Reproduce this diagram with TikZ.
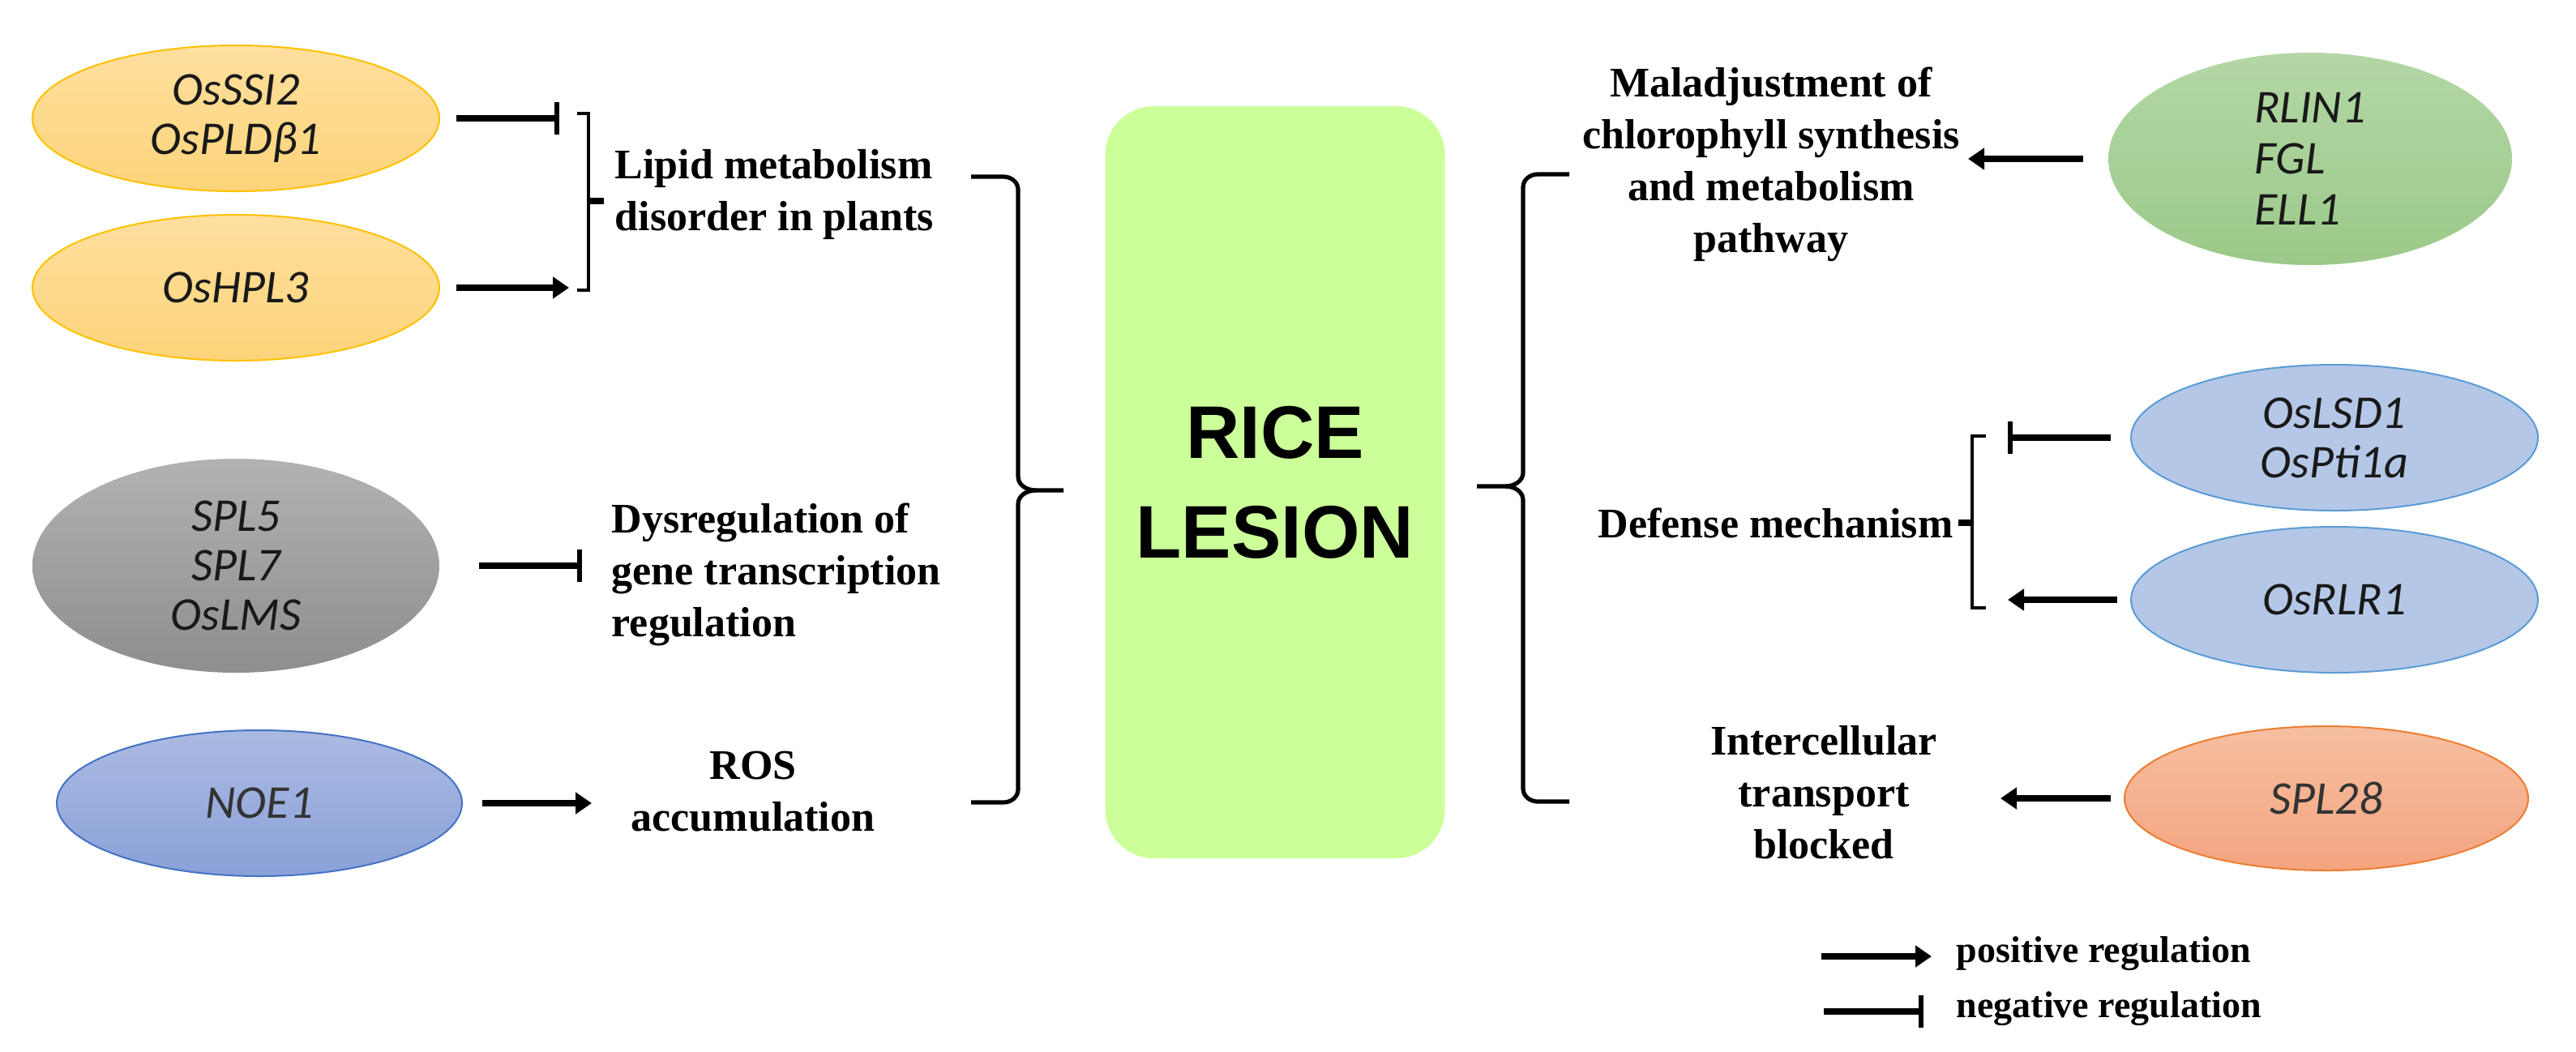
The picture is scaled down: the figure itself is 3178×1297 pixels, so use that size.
\documentclass[tikz,border=0pt]{standalone}
\usepackage{fontspec}
\setmainfont{Liberation Serif}
\newfontfamily\genefont{Carlito}
\newfontfamily\boxfont{Liberation Sans}
\usetikzlibrary{shapes.geometric,arrows.meta}
\definecolor{orT}{HTML}{FEDF9E}
\definecolor{orB}{HTML}{FDD47A}
\definecolor{orD}{HTML}{FFC000}
\definecolor{grT}{HTML}{B2B2B2}
\definecolor{grB}{HTML}{8E8E8E}
\definecolor{blT}{HTML}{ABBAE2}
\definecolor{blB}{HTML}{8AA1D8}
\definecolor{blD}{HTML}{4472C4}
\definecolor{gnT}{HTML}{B3D7A5}
\definecolor{gnB}{HTML}{9CC989}
\definecolor{lbF}{HTML}{B4C7E7}
\definecolor{lbD}{HTML}{5B9BD5}
\definecolor{saT}{HTML}{F6BFA2}
\definecolor{saB}{HTML}{F4A47F}
\definecolor{saD}{HTML}{ED7D31}
\definecolor{riceG}{HTML}{CCFF99}
\tikzset{
  gene/.style={ellipse, inner sep=0pt, align=center, text=black!90,
    font=\genefont\itshape\fontsize{14.5}{15.25}\selectfont},
  lab/.style={inner sep=0pt, font=\bfseries\fontsize{13}{16}\selectfont},
  leg/.style={inner sep=0pt, anchor=west, font=\bfseries\fontsize{11.5}{14}\selectfont},
  posarr/.style={line width=1.8pt, -{Triangle[length=5pt,width=6.5pt]}},
  negarr/.style={line width=1.8pt, -{Bar[width=10pt,line width=1.5pt]}},
  brk/.style={line width=1.1pt},
  nub/.style={line width=2.2pt},
  brace/.style={line width=1.3pt}
}
\begin{document}
\begin{tikzpicture}[x=0.25pt,y=-0.25pt]
\useasboundingbox (0,0) rectangle (3178,1297);

% ---------- left ellipses ----------
\node[gene, minimum width=125.5pt, minimum height=45pt, top color=orT, bottom color=orB, draw=orD, line width=0.5pt] (e1) at (291,146) {OsSSI2\\OsPLDβ1};
\node[gene, minimum width=125.5pt, minimum height=45pt, top color=orT, bottom color=orB, draw=orD, line width=0.5pt] (e2) at (291,355) {OsHPL3};
\node[gene, minimum width=125.5pt, minimum height=66pt, top color=grT, bottom color=grB] (e3) at (291,698) {SPL5\\SPL7\\OsLMS};
\node[gene, minimum width=125pt, minimum height=45pt, top color=blT, bottom color=blB, draw=blD, line width=0.5pt, text=black!80] (e4) at (320,991) {NOE1};

% ---------- right ellipses ----------
\node[gene, minimum width=124.5pt, minimum height=65.5pt, top color=gnT, bottom color=gnB, align=left, font=\genefont\itshape\fontsize{14.5}{15.75}\selectfont] (e5) at (2850,196) {RLIN1\\FGL\\ELL1};
\node[gene, minimum width=125.5pt, minimum height=45pt, fill=lbF, draw=lbD, line width=0.5pt] (e6) at (2880,540) {OsLSD1\\OsPti1a};
\node[gene, minimum width=125.5pt, minimum height=45pt, fill=lbF, draw=lbD, line width=0.5pt] (e7) at (2880,740) {OsRLR1};
\node[gene, minimum width=124.5pt, minimum height=44.5pt, top color=saT, bottom color=saB, draw=saD, line width=0.5pt, text=black!80] (e8) at (2870,985) {SPL28};

% ---------- central box ----------
\node[fill=riceG, rounded corners=15pt, minimum width=104.75pt, minimum height=232pt, inner sep=0pt, align=center,
  font=\boxfont\bfseries\fontsize{23}{30.75}\selectfont] (rice) at (1573,595) {RICE\\LESION};

% ---------- labels ----------
\node[lab, anchor=west, align=left] (lipid) at (758,240) {Lipid metabolism\\disorder in plants};
\node[lab, anchor=west, align=left] (dys) at (754,709) {Dysregulation of\\gene transcription\\regulation};
\node[lab, align=center] (ros) at (929,977) {ROS\\accumulation};
\node[lab, align=center] (mal) at (2185,203) {Maladjustment of\\chlorophyll synthesis\\and metabolism\\pathway};
\node[lab, anchor=west] (def) at (1971,645) {Defense mechanism};
\node[lab, align=center] (inter) at (2250,978) {Intercellular\\transport\\blocked};

% ---------- connector end points ----------
\coordinate (t1) at (690,146);
\coordinate (t2) at (702,355);
\coordinate (t3) at (718,698);
\coordinate (t4) at (730,991);
\coordinate (t5) at (2428,196);
\coordinate (t6) at (2477,540);
\coordinate (t7) at (2477,740);
\coordinate (t8) at (2468,985);

\draw[negarr, shorten <=5pt] (e1.east) -- (t1);
\draw[posarr, shorten <=5pt] (e2.east) -- (t2);
\draw[negarr, shorten <=12pt] (e3.east) -- (t3);
\draw[posarr, shorten <=6pt] (e4.east) -- (t4);
\draw[posarr, shorten <=7.5pt] (e5.west) -- (t5);
\draw[negarr, shorten <=6pt] (e6.west) -- (t6);
\draw[posarr, shorten <=4pt] (e7.west) -- (t7);
\draw[posarr, shorten <=4pt] (e8.west) -- (t8);

% ---------- small brackets ----------
\draw[brk] (712,140) -- (726,140) -- (726,358) -- (712,358);
\draw[nub] (726,248) -- (745,248);
\draw[brk] (2450,538) -- (2433,538) -- (2433,750) -- (2450,750);
\draw[nub] (2433,645) -- (2416,645);

% ---------- large braces ----------
\draw[brace] (1198,218) -- (1238,218) to[out=0,in=90] (1256,234) -- (1256,588)
  to[out=-90,in=180] (1278,605) -- (1312,605);
\draw[brace] (1278,605) to[out=180,in=90] (1256,622) -- (1256,974)
  to[out=-90,in=0] (1238,990) -- (1198,990);
\draw[brace] (1936,215) -- (1897,215) to[out=180,in=90] (1879,231) -- (1879,583)
  to[out=-90,in=0] (1857,600) -- (1822,600);
\draw[brace] (1857,600) to[out=0,in=90] (1879,617) -- (1879,973)
  to[out=-90,in=180] (1897,989) -- (1936,989);

% ---------- legend ----------
\coordinate (la1) at (2247,1180);
\coordinate (la2) at (2383,1180);
\draw[posarr] (la1) -- (la2);
\node[leg] (lt1) at (2413,1177) {positive regulation};
\coordinate (lb1) at (2250,1248);
\coordinate (lb2) at (2373,1248);
\draw[negarr] (lb1) -- (lb2);
\node[leg] (lt2) at (2413,1245) {negative regulation};
\end{tikzpicture}
\end{document}
